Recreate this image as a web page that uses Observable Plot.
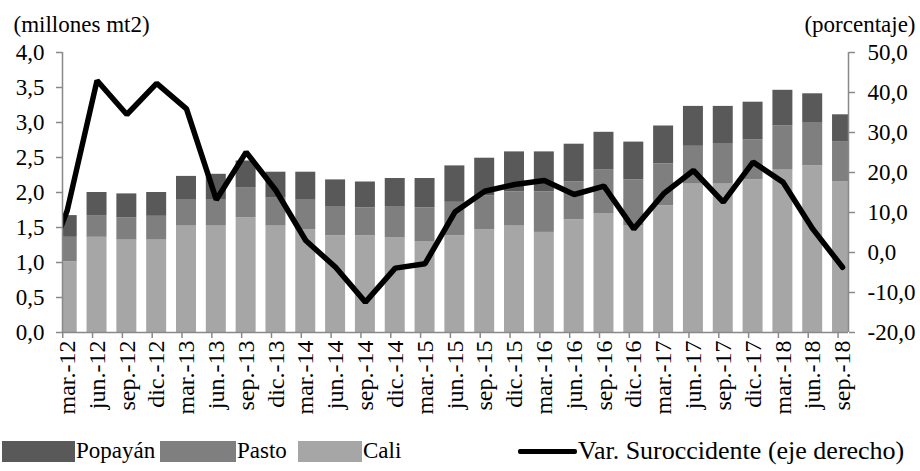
<!DOCTYPE html>
<html><head><meta charset="utf-8">
<script src="https://cdn.jsdelivr.net/npm/d3@7"></script>
<script src="https://cdn.jsdelivr.net/npm/@observablehq/plot@0.6"></script>
<style>
body{margin:0;background:#fff;font-family:'Liberation Serif',serif;}
#wrap{position:relative;width:920px;height:471px;}
#legend{position:relative;width:920px;height:43px;font-family:'Liberation Serif',serif;font-size:23px;color:#000;}
#legend .sw{position:absolute;top:13px;height:21px;}
#legend .tx{position:absolute;top:9px;line-height:28px;white-space:nowrap;font-family:'Liberation Serif',serif;}
#legend .ln{position:absolute;top:21px;height:5px;background:#000;border-radius:2px;}
</style>
</head><body>
<div id="wrap"><div id="chart"></div><div id="legend"></div></div>
<script>
const periodos = ["mar.-12","jun.-12","sep.-12","dic.-12","mar.-13","jun.-13","sep.-13","dic.-13","mar.-14","jun.-14","sep.-14","dic.-14","mar.-15","jun.-15","sep.-15","dic.-15","mar.-16","jun.-16","sep.-16","dic.-16","mar.-17","jun.-17","sep.-17","dic.-17","mar.-18","jun.-18","sep.-18"];
const cali    = [1.01,1.36,1.32,1.32,1.52,1.52,1.64,1.52,1.47,1.38,1.38,1.35,1.30,1.38,1.47,1.52,1.43,1.61,1.70,1.52,1.81,2.12,2.12,2.18,2.32,2.38,2.15];
const pasto   = [0.35,0.31,0.32,0.34,0.37,0.37,0.43,0.40,0.42,0.42,0.40,0.45,0.48,0.48,0.48,0.49,0.58,0.54,0.62,0.66,0.60,0.54,0.58,0.57,0.63,0.62,0.57];
const popayan = [0.31,0.33,0.34,0.34,0.34,0.37,0.38,0.37,0.40,0.38,0.37,0.40,0.42,0.52,0.54,0.57,0.57,0.54,0.54,0.54,0.54,0.57,0.53,0.54,0.51,0.41,0.39];
const variacion = [10.5,43.0,34.5,42.3,35.9,13.2,25.1,15.5,3.0,-3.7,-12.4,-3.9,-2.8,10.1,15.3,17.0,18.0,14.5,16.6,5.9,14.7,20.5,12.6,22.6,17.6,5.9,-3.7];
const variacionPrevia = -9; // dic.-11, only a clipped stub is visible
const ticksIzq = [0,0.5,1,1.5,2,2.5,3,3.5,4];
const ticksDer = [-20,-10,0,10,20,30,40,50];
const series = ["Cali","Pasto","Popayán"];
const colores = ["#a6a6a6","#7f7f7f","#595959"];

const toLeft = p => (p + 20) * 4 / 70;
const fmt = v => v.toFixed(1).replace(".", ",");

const barras = [];
periodos.forEach((p, i) => {
  barras.push({i, serie: "Cali", v: cali[i]});
  barras.push({i, serie: "Pasto", v: pasto[i]});
  barras.push({i, serie: "Popayán", v: popayan[i]});
});
const linea = [{i: -1, v: variacionPrevia}, ...variacion.map((v, i) => ({i, v}))];

const X0 = -0.158, X1 = 26.2, W = 0.335;
const axisColor = "#898989";
const serif = "'Liberation Serif','Times New Roman',serif";

const chart = Plot.plot({
  width: 920, height: 428,
  marginLeft: 62, marginRight: 72, marginTop: 52, marginBottom: 96,
  style: {fontFamily: serif, fontSize: "23px", color: "#000", background: "#fff", overflow: "visible"},
  x: {type: "linear", domain: [X0, X1], axis: null},
  y: {domain: [0, 4], axis: null},
  color: {domain: series, range: colores},
  marks: [
    Plot.rectY(barras, {x1: d => d.i - W, x2: d => d.i + W, y: "v", fill: "serie", clip: true}),
    Plot.line(linea, {x: "i", y: d => toLeft(d.v), stroke: "#000", strokeWidth: 5.5, strokeLinejoin: "miter", clip: true}),
    Plot.ruleX([X0], {stroke: axisColor, strokeWidth: 1.5}),
    Plot.ruleX([X1], {stroke: axisColor, strokeWidth: 1.5}),
    Plot.ruleY([0], {stroke: axisColor, strokeWidth: 1.5}),
    Plot.axisY({anchor: "left", ticks: ticksIzq, tickFormat: fmt, tickSize: 6, tickPadding: 12, stroke: axisColor, fill: "#000", label: null, strokeWidth: 1.5, fontSize: 23}),
    Plot.axisY({anchor: "right", ticks: ticksDer.map(toLeft), tickFormat: v => fmt(Math.round(v * 70 / 4 - 20)), tickSize: 6, tickPadding: 13, stroke: axisColor, fill: "#000", label: null, strokeWidth: 1.5, fontSize: 23}),
    Plot.axisX({ticks: periodos.map((p, i) => i - 0.15), tickFormat: () => "", tickSize: 6, stroke: axisColor, label: null, strokeWidth: 1.5}),
    Plot.axisX({ticks: periodos.map((p, i) => i), tickFormat: i => periodos[i], tickSize: 0, tickPadding: 8, tickRotate: -90, fill: "#000", label: null, fontSize: 24}),
    Plot.text(["(millones mt2)"], {frameAnchor: "top-left", text: d => d, dx: -49, dy: -28, textAnchor: "start", lineAnchor: "middle", fill: "#000", fontSize: 23}),
    Plot.text(["(porcentaje)"], {frameAnchor: "top-right", text: d => d, dx: 67, dy: -28, textAnchor: "end", lineAnchor: "middle", fill: "#000", fontSize: 23})
  ]
});
document.getElementById("chart").appendChild(chart);

const legend = document.getElementById("legend");
const items = [
  {type: "sw", color: colores[2], label: "Popayán", x: 2, w: 73, fs: 23},
  {type: "sw", color: colores[1], label: "Pasto", x: 160, w: 76, fs: 23},
  {type: "sw", color: colores[0], label: "Cali", x: 298, w: 64, fs: 23},
  {type: "ln", color: "#000", label: "Var. Suroccidente (eje derecho)", x: 518, w: 59, fs: 26}
];
for (const it of items) {
  const s = document.createElement("div");
  s.className = it.type;
  s.style.left = it.x + "px";
  s.style.width = it.w + "px";
  s.style.background = it.color;
  legend.appendChild(s);
  const t = document.createElement("div");
  t.className = "tx";
  t.style.left = (it.x + it.w + 1) + "px";
  t.style.fontSize = it.fs + "px";
  t.textContent = it.label;
  legend.appendChild(t);
}
</script>
</body></html>
